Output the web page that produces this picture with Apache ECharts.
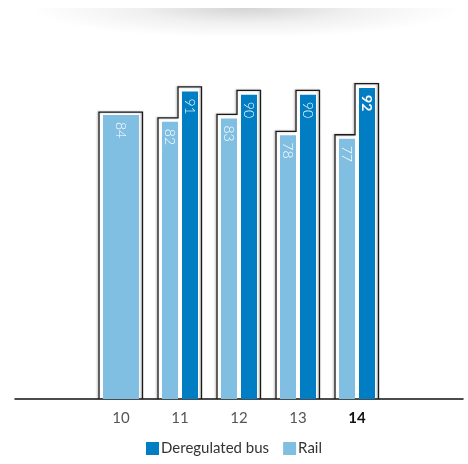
<!DOCTYPE html>
<html>
<head>
<meta charset="utf-8">
<script src="https://cdn.jsdelivr.net/npm/echarts@6/dist/echarts.min.js"></script>
<style>
  html, body { margin: 0; padding: 0; background: #fff; }
  #chart { width: 468px; height: 464px; }
</style>
</head>
<body>
<div id="chart"></div>
<script>
// Satisfaction scores by year
const years = ['10', '11', '12', '13', '14'];
const railValues = [84, 82, 83, 78, 77];
const busValues = [null, 91, 90, 90, 92];
const highlightYear = '14';

const RAIL_COLOR = '#80bfe2';
const BUS_COLOR = '#007dc3';
const FONT = 'Lato, "Open Sans", sans-serif';

// A year with no bus figure gets one wide rail bar; other years pair rail with bus.
const railSolo = railValues.map((v, i) => busValues[i] == null ? v : '-');
const railPaired = railValues.map((v, i) => busValues[i] == null ? '-' : v);
// the latest bus figure is set in bold
const busData = busValues.map((v, i) => {
  if (v == null) return '-';
  return years[i] === highlightYear ? { value: v, label: { fontWeight: 'bold' } } : v;
});
const outlineData = years.map((y, i) => [i, railValues[i]]);

function barLabel() {
  return {
    show: true,
    position: 'insideTop',
    rotate: -90,
    align: 'left',
    verticalAlign: 'middle',
    distance: 7,
    color: '#fff',
    fontSize: 14,
    fontWeight: 300,
    fontFamily: FONT
  };
}

const chart = echarts.init(document.getElementById('chart'), null, { renderer: 'canvas' });

chart.setOption({
  animation: false,
  backgroundColor: '#fff',
  graphic: [
    {
      type: 'circle',
      x: 245, y: 8,
      scaleX: 7.2, scaleY: 1,
      shape: { cx: 0, cy: 0, r: 30 },
      style: {
        fill: new echarts.graphic.RadialGradient(0.5, 0.5, 0.5, [
          { offset: 0, color: 'rgba(0,0,0,0.17)' },
          { offset: 0.5, color: 'rgba(0,0,0,0.06)' },
          { offset: 1, color: 'rgba(0,0,0,0)' }
        ])
      },
      silent: true,
      z: 0
    },
    {
      type: 'rect',
      shape: { x: 0, y: 0, width: 468, height: 8 },
      style: { fill: '#fff' },
      silent: true,
      z: 1
    }
  ],
  legend: {
    data: ['Deregulated bus', 'Rail'],
    bottom: 3,
    left: 'center',
    icon: 'rect',
    itemWidth: 13,
    itemHeight: 13,
    itemGap: 14,
    textStyle: { fontFamily: FONT, fontSize: 15, color: '#333', padding: [0, 0, 0, -3] }
  },
  grid: [
    { left: 91.5, right: 81.5, top: 61, bottom: 65 },
    { left: 15, right: 5, top: 61, bottom: 65 }
  ],
  xAxis: [
    {
      type: 'category',
      gridIndex: 0,
      data: years,
      axisLine: { show: false },
      axisTick: { show: false },
      axisLabel: {
        margin: 12,
        fontFamily: FONT,
        fontSize: 15,
        color: '#555',
        formatter: v => v === highlightYear ? '{b|' + v + '}' : v,
        rich: { b: { fontFamily: FONT, fontSize: 15, fontWeight: 'bold', color: '#111' } }
      }
    },
    {
      type: 'category',
      gridIndex: 0,
      data: years,
      show: false
    },
    {
      type: 'value',
      gridIndex: 1,
      min: 0, max: 1,
      axisLine: { show: true, lineStyle: { color: '#111', width: 1.5 } },
      axisTick: { show: false },
      axisLabel: { show: false },
      splitLine: { show: false }
    }
  ],
  yAxis: [
    { type: 'value', gridIndex: 0, min: 0, max: 100, show: false },
    { type: 'value', gridIndex: 1, min: 0, max: 1, show: false }
  ],
  series: [
    {
      // stepped frame around each year's bars
      type: 'custom',
      xAxisIndex: 0,
      yAxisIndex: 0,
      z: 1,
      silent: true,
      data: outlineData,
      encode: { x: 0, y: 1 },
      renderItem(params, api) {
        const i = api.value(0);
        const rail = api.value(1);
        const bus = busValues[i];
        const base = api.coord([i, 0]);
        const cx = base[0];
        const y0 = base[1];
        const yR = api.coord([i, rail])[1];
        const L = cx - 22;
        const R = cx + 21.5;
        let pts;
        if (bus == null) {
          pts = [[L, y0], [L, yR - 3], [R, yR - 3], [R, y0]];
        } else {
          const yB = api.coord([i, bus])[1];
          const sx = cx - 2;
          pts = [[L, y0], [L, yR - 4], [sx, yR - 4], [sx, yB - 4.5], [R, yB - 4.5], [R, y0]];
        }
        return {
          type: 'polyline',
          shape: { points: pts },
          style: {
            stroke: '#1a1a1a',
            lineWidth: 1.3,
            fill: null,
            shadowColor: 'rgba(0,0,0,0.35)',
            shadowBlur: 2,
            shadowOffsetX: -1
          }
        };
      }
    },
    {
      name: 'Rail',
      type: 'bar',
      xAxisIndex: 0,
      yAxisIndex: 0,
      data: railPaired,
      barWidth: 16,
      barGap: '25%',
      itemStyle: { color: RAIL_COLOR },
      label: barLabel(),
      z: 3
    },
    {
      name: 'Deregulated bus',
      type: 'bar',
      xAxisIndex: 0,
      yAxisIndex: 0,
      data: busData,
      barWidth: 16,
      barGap: '25%',
      itemStyle: { color: BUS_COLOR },
      label: barLabel(),
      z: 3
    },
    {
      name: 'Rail',
      type: 'bar',
      xAxisIndex: 1,
      yAxisIndex: 0,
      data: railSolo,
      barWidth: 36,
      itemStyle: { color: RAIL_COLOR },
      label: barLabel(),
      z: 3
    }
  ]
});
</script>
</body>
</html>
